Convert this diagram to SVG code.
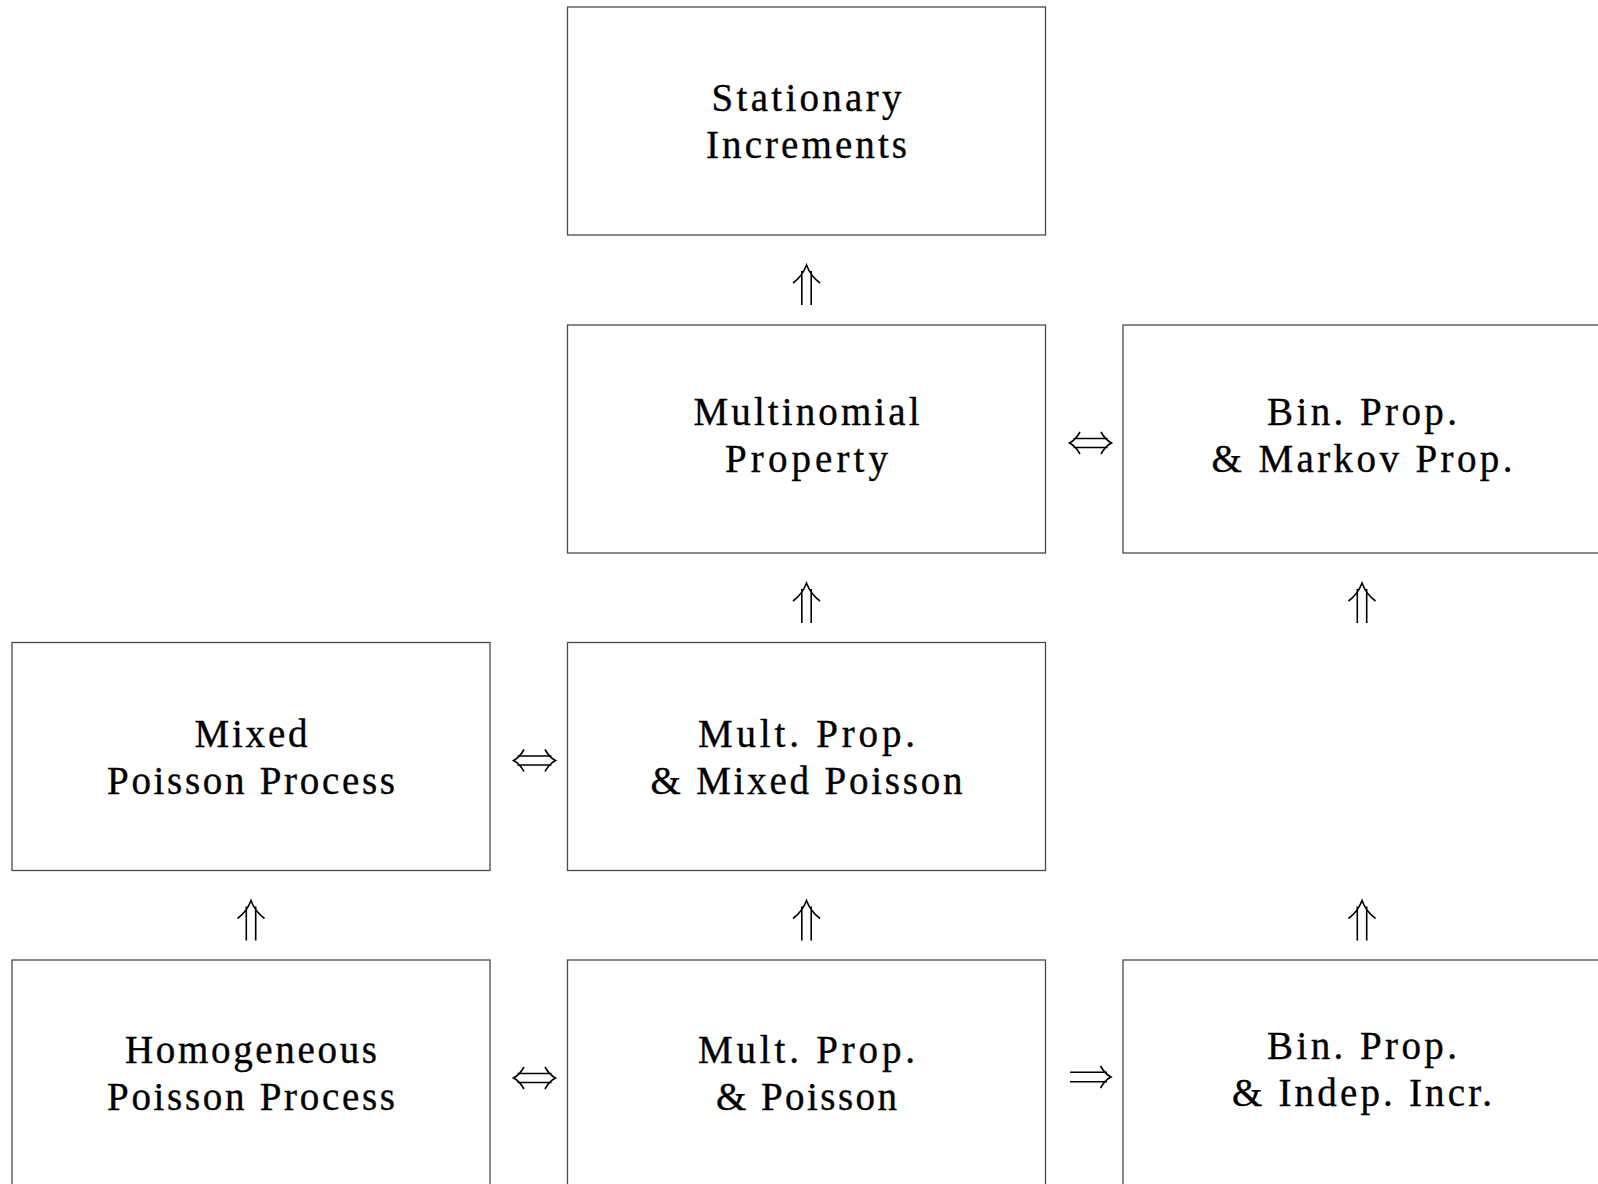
<svg xmlns="http://www.w3.org/2000/svg" width="1598" height="1184" viewBox="0 0 1598 1184">
<style>
.box{fill:#fff;stroke:#4a4a4a;stroke-width:1.3}
.lbl{font-family:"Liberation Serif","Times New Roman",serif;font-size:39px;fill:#000;text-anchor:middle;stroke:#000;stroke-width:0.35}
.arr{fill:none;stroke:#000;stroke-width:1.6;stroke-linecap:butt}
</style>
<rect width="1598" height="1184" fill="#fff"/>
<g id="stationary">
<rect class="box" x="567.5" y="7" width="478" height="228"/>
<text class="lbl" x="806.5" y="111" textLength="190" lengthAdjust="spacing">Stationary</text>
<text class="lbl" x="806.5" y="157.5" textLength="201" lengthAdjust="spacing">Increments</text>
</g>
<g id="multinomial">
<rect class="box" x="567.5" y="325" width="478" height="228"/>
<text class="lbl" x="806.5" y="425" textLength="226" lengthAdjust="spacing">Multinomial</text>
<text class="lbl" x="806.5" y="472" textLength="163" lengthAdjust="spacing">Property</text>
</g>
<g id="bin-markov">
<rect class="box" x="1123" y="325" width="478" height="228"/>
<text class="lbl" x="1362" y="425" textLength="190" lengthAdjust="spacing">Bin. Prop.</text>
<text class="lbl" x="1362" y="472" textLength="301" lengthAdjust="spacing">&amp; Markov Prop.</text>
</g>
<g id="mixed-poisson">
<rect class="box" x="12" y="642.5" width="478" height="228"/>
<text class="lbl" x="251" y="746.5" textLength="113" lengthAdjust="spacing">Mixed</text>
<text class="lbl" x="251" y="793.5" textLength="288" lengthAdjust="spacing">Poisson Process</text>
</g>
<g id="mult-mixed">
<rect class="box" x="567.5" y="642.5" width="478" height="228"/>
<text class="lbl" x="806.5" y="746.5" textLength="217" lengthAdjust="spacing">Mult. Prop.</text>
<text class="lbl" x="806.5" y="793.5" textLength="312" lengthAdjust="spacing">&amp; Mixed Poisson</text>
</g>
<g id="homogeneous">
<rect class="box" x="12" y="960" width="478" height="228"/>
<text class="lbl" x="251" y="1062.5" textLength="252" lengthAdjust="spacing">Homogeneous</text>
<text class="lbl" x="251" y="1109.5" textLength="288" lengthAdjust="spacing">Poisson Process</text>
</g>
<g id="mult-poisson">
<rect class="box" x="567.5" y="960" width="478" height="228"/>
<text class="lbl" x="806.5" y="1062.5" textLength="217" lengthAdjust="spacing">Mult. Prop.</text>
<text class="lbl" x="806.5" y="1109.5" textLength="181" lengthAdjust="spacing">&amp; Poisson</text>
</g>
<g id="bin-indep">
<rect class="box" x="1123" y="960" width="478" height="228"/>
<text class="lbl" x="1362" y="1058.5" textLength="190" lengthAdjust="spacing">Bin. Prop.</text>
<text class="lbl" x="1362" y="1105.5" textLength="260" lengthAdjust="spacing">&amp; Indep. Incr.</text>
</g>
<g id="connectors">
<defs>
<path id="up" d="M-13.5,18 Q-4,11 0,0 Q4,11 13.5,18 M-4.7,6 V40 M4.7,6 V40"/>
<path id="lr" d="M10.5,-11 Q6,-3 0,0 Q6,3 10.5,11 M31.5,-11 Q36,-3 42,0 Q36,3 31.5,11 M4,-4.5 H38 M4,4.5 H38"/>
<path id="r" d="M30.5,-11 Q35,-3 41,0 Q35,3 30.5,11 M0,-4.7 H37 M0,4.7 H37"/>
</defs>
<use href="#up" class="arr" x="806.5" y="265"/>
<use href="#up" class="arr" x="806.5" y="583"/>
<use href="#up" class="arr" x="1362" y="583"/>
<use href="#up" class="arr" x="251" y="900.5"/>
<use href="#up" class="arr" x="806.5" y="900.5"/>
<use href="#up" class="arr" x="1362" y="900.5"/>
<use href="#lr" class="arr" x="1069.5" y="443"/>
<use href="#lr" class="arr" x="513.5" y="760.5"/>
<use href="#lr" class="arr" x="513.5" y="1078"/>
<use href="#r" class="arr" x="1070" y="1077"/>
</g>
</svg>
